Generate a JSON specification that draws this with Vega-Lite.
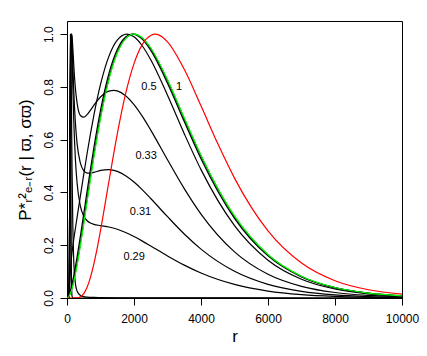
{
  "$schema": "https://vega.github.io/schema/vega-lite/v6.json",
  "width": 335,
  "height": 277,
  "autosize": "none",
  "padding": {"left": 67, "top": 21, "right": 25, "bottom": 58},
  "background": "white",
  "config": {
    "view": {"stroke": "#000", "strokeWidth": 1},
    "font": "Liberation Sans",
    "axis": {"grid": false, "domainColor": "#000", "tickColor": "#000", "labelColor": "#000", "titleColor": "#000", "titleFontWeight": "normal", "labelFont": "Liberation Sans", "titleFont": "Liberation Sans", "labelFlush": false, "labelOverlap": false}
  },
  "datasets": {
    "black": [
      {"c":"0.1","r":0,"p":0},{"c":"0.1","r":70,"p":0.0001},{"c":"0.1","r":80,"p":0.0282},{"c":"0.1","r":85,"p":0.1517},{"c":"0.1","r":90,"p":0.4331},{"c":"0.1","r":95,"p":0.7751},{"c":"0.1","r":102,"p":1.0},{"c":"0.1","r":105,"p":0.9614},{"c":"0.1","r":110,"p":0.7779},{"c":"0.1","r":120,"p":0.3455},{"c":"0.1","r":130,"p":0.1123},{"c":"0.1","r":140,"p":0.0312},{"c":"0.1","r":150,"p":0.0081},{"c":"0.1","r":175,"p":0.0003},{"c":"0.1","r":200,"p":0},{"c":"0.1","r":10000,"p":0},
      {"c":"0.2","r":0,"p":0},{"c":"0.2","r":60,"p":0.0013},{"c":"0.2","r":70,"p":0.047},{"c":"0.2","r":80,"p":0.2766},{"c":"0.2","r":90,"p":0.6488},{"c":"0.2","r":100,"p":0.9252},{"c":"0.2","r":110,"p":1.0},{"c":"0.2","r":120,"p":0.9229},{"c":"0.2","r":130,"p":0.7798},{"c":"0.2","r":140,"p":0.6281},{"c":"0.2","r":150,"p":0.4938},{"c":"0.2","r":175,"p":0.2647},{"c":"0.2","r":200,"p":0.1471},{"c":"0.2","r":250,"p":0.0553},{"c":"0.2","r":300,"p":0.0264},{"c":"0.2","r":400,"p":0.0097},{"c":"0.2","r":500,"p":0.0052},{"c":"0.2","r":600,"p":0.0034},{"c":"0.2","r":800,"p":0.002},{"c":"0.2","r":1000,"p":0.0015},{"c":"0.2","r":1500,"p":0.001},{"c":"0.2","r":2000,"p":0.0007},{"c":"0.2","r":3000,"p":0.0004},{"c":"0.2","r":5000,"p":0.0001},{"c":"0.2","r":10000,"p":0},
      {"c":"0.29","r":0,"p":0},{"c":"0.29","r":50,"p":0.0006},{"c":"0.29","r":60,"p":0.0222},{"c":"0.29","r":70,"p":0.1411},{"c":"0.29","r":80,"p":0.3751},{"c":"0.29","r":90,"p":0.6333},{"c":"0.29","r":100,"p":0.833},{"c":"0.29","r":110,"p":0.9502},{"c":"0.29","r":120,"p":0.9969},{"c":"0.29","r":125,"p":1.0},{"c":"0.29","r":130,"p":0.9954},{"c":"0.29","r":140,"p":0.9656},{"c":"0.29","r":150,"p":0.921},{"c":"0.29","r":175,"p":0.7942},{"c":"0.29","r":200,"p":0.682},{"c":"0.29","r":250,"p":0.5272},{"c":"0.29","r":300,"p":0.4371},{"c":"0.29","r":400,"p":0.3485},{"c":"0.29","r":500,"p":0.3108},{"c":"0.29","r":600,"p":0.2929},{"c":"0.29","r":700,"p":0.284},{"c":"0.29","r":800,"p":0.2793},{"c":"0.29","r":1000,"p":0.2744},{"c":"0.29","r":1250,"p":0.269},{"c":"0.29","r":1500,"p":0.2604},{"c":"0.29","r":1750,"p":0.2482},{"c":"0.29","r":2000,"p":0.233},{"c":"0.29","r":2250,"p":0.2156},{"c":"0.29","r":2500,"p":0.1971},{"c":"0.29","r":3000,"p":0.1595},{"c":"0.29","r":3500,"p":0.1247},{"c":"0.29","r":4000,"p":0.0947},{"c":"0.29","r":5000,"p":0.0514},{"c":"0.29","r":6000,"p":0.0262},{"c":"0.29","r":7000,"p":0.0127},{"c":"0.29","r":8000,"p":0.006},{"c":"0.29","r":9000,"p":0.0028},{"c":"0.29","r":10000,"p":0.0012},
      {"c":"0.31","r":0,"p":0},{"c":"0.31","r":50,"p":0.0012},{"c":"0.31","r":60,"p":0.0298},{"c":"0.31","r":70,"p":0.1562},{"c":"0.31","r":80,"p":0.3794},{"c":"0.31","r":90,"p":0.6172},{"c":"0.31","r":100,"p":0.8044},{"c":"0.31","r":110,"p":0.9231},{"c":"0.31","r":120,"p":0.9827},{"c":"0.31","r":130,"p":1.0},{"c":"0.31","r":140,"p":0.9906},{"c":"0.31","r":150,"p":0.9658},{"c":"0.31","r":175,"p":0.879},{"c":"0.31","r":200,"p":0.7929},{"c":"0.31","r":250,"p":0.665},{"c":"0.31","r":300,"p":0.587},{"c":"0.31","r":400,"p":0.5109},{"c":"0.31","r":500,"p":0.4826},{"c":"0.31","r":600,"p":0.4737},{"c":"0.31","r":700,"p":0.4732},{"c":"0.31","r":800,"p":0.476},{"c":"0.31","r":1000,"p":0.4835},{"c":"0.31","r":1250,"p":0.4868},{"c":"0.31","r":1400,"p":0.4838},{"c":"0.31","r":1500,"p":0.48},{"c":"0.31","r":1750,"p":0.4637},{"c":"0.31","r":2000,"p":0.4396},{"c":"0.31","r":2250,"p":0.4101},{"c":"0.31","r":2500,"p":0.3772},{"c":"0.31","r":3000,"p":0.3082},{"c":"0.31","r":3500,"p":0.2425},{"c":"0.31","r":4000,"p":0.1852},{"c":"0.31","r":5000,"p":0.1012},{"c":"0.31","r":6000,"p":0.0518},{"c":"0.31","r":7000,"p":0.0253},{"c":"0.31","r":8000,"p":0.0119},{"c":"0.31","r":9000,"p":0.0055},{"c":"0.31","r":10000,"p":0.0025},
      {"c":"0.33","r":0,"p":0},{"c":"0.33","r":50,"p":0.0021},{"c":"0.33","r":60,"p":0.0376},{"c":"0.33","r":70,"p":0.1678},{"c":"0.33","r":80,"p":0.3785},{"c":"0.33","r":90,"p":0.5972},{"c":"0.33","r":100,"p":0.7724},{"c":"0.33","r":110,"p":0.891},{"c":"0.33","r":120,"p":0.9598},{"c":"0.33","r":130,"p":0.992},{"c":"0.33","r":140,"p":1.0},{"c":"0.33","r":150,"p":0.9927},{"c":"0.33","r":175,"p":0.9444},{"c":"0.33","r":200,"p":0.8872},{"c":"0.33","r":250,"p":0.7958},{"c":"0.33","r":300,"p":0.7397},{"c":"0.33","r":400,"p":0.6919},{"c":"0.33","r":500,"p":0.6854},{"c":"0.33","r":600,"p":0.6954},{"c":"0.33","r":700,"p":0.7121},{"c":"0.33","r":800,"p":0.7301},{"c":"0.33","r":1000,"p":0.7619},{"c":"0.33","r":1250,"p":0.7844},{"c":"0.33","r":1400,"p":0.7871},{"c":"0.33","r":1500,"p":0.7853},{"c":"0.33","r":1750,"p":0.7669},{"c":"0.33","r":2000,"p":0.7331},{"c":"0.33","r":2250,"p":0.6883},{"c":"0.33","r":2500,"p":0.6365},{"c":"0.33","r":3000,"p":0.5241},{"c":"0.33","r":3500,"p":0.4147},{"c":"0.33","r":4000,"p":0.3182},{"c":"0.33","r":5000,"p":0.1749},{"c":"0.33","r":6000,"p":0.0899},{"c":"0.33","r":7000,"p":0.0441},{"c":"0.33","r":8000,"p":0.0208},{"c":"0.33","r":9000,"p":0.0096},{"c":"0.33","r":10000,"p":0.0043},
      {"c":"0.5","r":0,"p":0},{"c":"0.5","r":50,"p":0.0036},{"c":"0.5","r":60,"p":0.0155},{"c":"0.5","r":70,"p":0.0352},{"c":"0.5","r":80,"p":0.058},{"c":"0.5","r":90,"p":0.0803},{"c":"0.5","r":100,"p":0.1006},{"c":"0.5","r":120,"p":0.1343},{"c":"0.5","r":150,"p":0.1724},{"c":"0.5","r":200,"p":0.2208},{"c":"0.5","r":250,"p":0.2634},{"c":"0.5","r":300,"p":0.3047},{"c":"0.5","r":400,"p":0.3871},{"c":"0.5","r":500,"p":0.4687},{"c":"0.5","r":600,"p":0.5477},{"c":"0.5","r":700,"p":0.6224},{"c":"0.5","r":800,"p":0.6914},{"c":"0.5","r":1000,"p":0.8094},{"c":"0.5","r":1250,"p":0.9159},{"c":"0.5","r":1500,"p":0.9775},{"c":"0.5","r":1790,"p":1.0},{"c":"0.5","r":2000,"p":0.9899},{"c":"0.5","r":2250,"p":0.9552},{"c":"0.5","r":2500,"p":0.9029},{"c":"0.5","r":3000,"p":0.7686},{"c":"0.5","r":3500,"p":0.6229},{"c":"0.5","r":4000,"p":0.4866},{"c":"0.5","r":5000,"p":0.2743},{"c":"0.5","r":6000,"p":0.1434},{"c":"0.5","r":7000,"p":0.0711},{"c":"0.5","r":8000,"p":0.034},{"c":"0.5","r":9000,"p":0.0157},{"c":"0.5","r":10000,"p":0.0071},
      {"c":"1","r":0,"p":0},{"c":"1","r":50,"p":0.0042},{"c":"1","r":100,"p":0.0262},{"c":"1","r":150,"p":0.0531},{"c":"1","r":200,"p":0.0838},{"c":"1","r":250,"p":0.1179},{"c":"1","r":300,"p":0.1548},{"c":"1","r":400,"p":0.2348},{"c":"1","r":500,"p":0.3192},{"c":"1","r":600,"p":0.4048},{"c":"1","r":700,"p":0.4887},{"c":"1","r":800,"p":0.5686},{"c":"1","r":1000,"p":0.7114},{"c":"1","r":1250,"p":0.8502},{"c":"1","r":1500,"p":0.9416},{"c":"1","r":1750,"p":0.9894},{"c":"1","r":1950,"p":1.0},{"c":"1","r":2250,"p":0.9801},{"c":"1","r":2500,"p":0.9383},{"c":"1","r":3000,"p":0.8142},{"c":"1","r":3500,"p":0.6691},{"c":"1","r":4000,"p":0.5282},{"c":"1","r":5000,"p":0.3021},{"c":"1","r":6000,"p":0.1595},{"c":"1","r":7000,"p":0.0797},{"c":"1","r":8000,"p":0.0382},{"c":"1","r":9000,"p":0.0178},{"c":"1","r":10000,"p":0.0081},
      {"c":"2","r":0,"p":0},{"c":"2","r":100,"p":0.0187},{"c":"2","r":200,"p":0.0656},{"c":"2","r":300,"p":0.1304},{"c":"2","r":400,"p":0.2067},{"c":"2","r":500,"p":0.2894},{"c":"2","r":600,"p":0.3746},{"c":"2","r":700,"p":0.459},{"c":"2","r":800,"p":0.5404},{"c":"2","r":1000,"p":0.6875},{"c":"2","r":1250,"p":0.8329},{"c":"2","r":1500,"p":0.931},{"c":"2","r":1750,"p":0.9848},{"c":"2","r":2000,"p":1.0},{"c":"2","r":2250,"p":0.9844},{"c":"2","r":2500,"p":0.9454},{"c":"2","r":3000,"p":0.8244},{"c":"2","r":3500,"p":0.6798},{"c":"2","r":4000,"p":0.538},{"c":"2","r":5000,"p":0.3089},{"c":"2","r":6000,"p":0.1635},{"c":"2","r":7000,"p":0.0818},{"c":"2","r":8000,"p":0.0393},{"c":"2","r":9000,"p":0.0183},{"c":"2","r":10000,"p":0.0083}
    ],
    "prior": [
      {"r":0,"p":0},{"r":50,"p":0.0044},{"r":100,"p":0.0167},{"r":150,"p":0.0358},{"r":200,"p":0.0605},{"r":250,"p":0.0899},{"r":300,"p":0.1232},{"r":400,"p":0.1982},{"r":500,"p":0.2801},{"r":600,"p":0.3649},{"r":700,"p":0.4495},{"r":800,"p":0.5312},{"r":1000,"p":0.6796},{"r":1250,"p":0.827},{"r":1500,"p":0.9274},{"r":1750,"p":0.9831},{"r":2000,"p":1.0},{"r":2250,"p":0.9857},{"r":2500,"p":0.9477},{"r":3000,"p":0.8277},{"r":3500,"p":0.6833},{"r":4000,"p":0.5413},{"r":5000,"p":0.3112},{"r":6000,"p":0.1648},{"r":7000,"p":0.0825},{"r":8000,"p":0.0397},{"r":9000,"p":0.0185},{"r":10000,"p":0.0084}
    ],
    "negative": [
      {"r":0,"p":0},{"r":200,"p":0},{"r":300,"p":0.0005},{"r":400,"p":0.0044},{"r":500,"p":0.0167},{"r":600,"p":0.041},{"r":700,"p":0.0783},{"r":800,"p":0.128},{"r":900,"p":0.1879},{"r":1000,"p":0.2555},{"r":1250,"p":0.4408},{"r":1500,"p":0.6214},{"r":1750,"p":0.7745},{"r":2000,"p":0.8885},{"r":2250,"p":0.9613},{"r":2500,"p":0.9953},{"r":2636,"p":1.0},{"r":2750,"p":0.9964},{"r":3000,"p":0.9709},{"r":3500,"p":0.867},{"r":4000,"p":0.7284},{"r":4500,"p":0.5852},{"r":5000,"p":0.4544},{"r":6000,"p":0.2541},{"r":7000,"p":0.1323},{"r":8000,"p":0.0654},{"r":9000,"p":0.0312},{"r":10000,"p":0.0144}
    ],
    "labels": [
      {"r":2448,"p":0.8,"t":"0.5"},{"r":3343,"p":0.8,"t":"1"},{"r":2362,"p":0.54,"t":"0.33"},{"r":2194,"p":0.325,"t":"0.31"},{"r":2004,"p":0.1545,"t":"0.29"}
    ]
  },
  "encoding": {
    "x": {"field": "r", "type": "quantitative", "scale": {"domain": [0, 10000], "nice": false, "zero": false},
      "axis": {"values": [0, 2000, 4000, 6000, 8000, 10000], "format": "d", "labelFontSize": 12, "tickSize": 7, "labelPadding": 8, "title": "r", "titleFontSize": 17, "titlePadding": 4}},
    "y": {"field": "p", "type": "quantitative", "scale": {"domain": [0, 1.05], "nice": false, "zero": false},
      "axis": {"values": [0, 0.2, 0.4, 0.6, 0.8, 1.0], "format": ".1f", "labelAngle": -90, "labelAlign": "center", "labelBaseline": "alphabetic", "labelFontSize": 12, "tickSize": 7, "labelPadding": 8, "title": "P*ᵣ²ₑ₋ᵣ(r | ϖ, σϖ)", "titleFontSize": 17, "titlePadding": 8}}
  },
  "layer": [
    {"data": {"name": "black"}, "mark": {"type": "line", "interpolate": "monotone", "color": "#000", "strokeWidth": 1.2, "clip": true},
      "encoding": {"detail": {"field": "c", "type": "nominal"}}},
    {"data": {"name": "prior"}, "mark": {"type": "line", "interpolate": "monotone", "color": "#00ff00", "strokeWidth": 1.2, "clip": true}, "encoding": {}},
    {"data": {"name": "negative"}, "mark": {"type": "line", "interpolate": "monotone", "color": "#ff0000", "strokeWidth": 1.2, "clip": true}, "encoding": {}},
    {"data": {"name": "labels"}, "mark": {"type": "text", "fontSize": 11, "font": "Liberation Sans", "color": "#000", "baseline": "middle", "align": "center"},
      "encoding": {"text": {"field": "t", "type": "nominal"}}}
  ]
}
